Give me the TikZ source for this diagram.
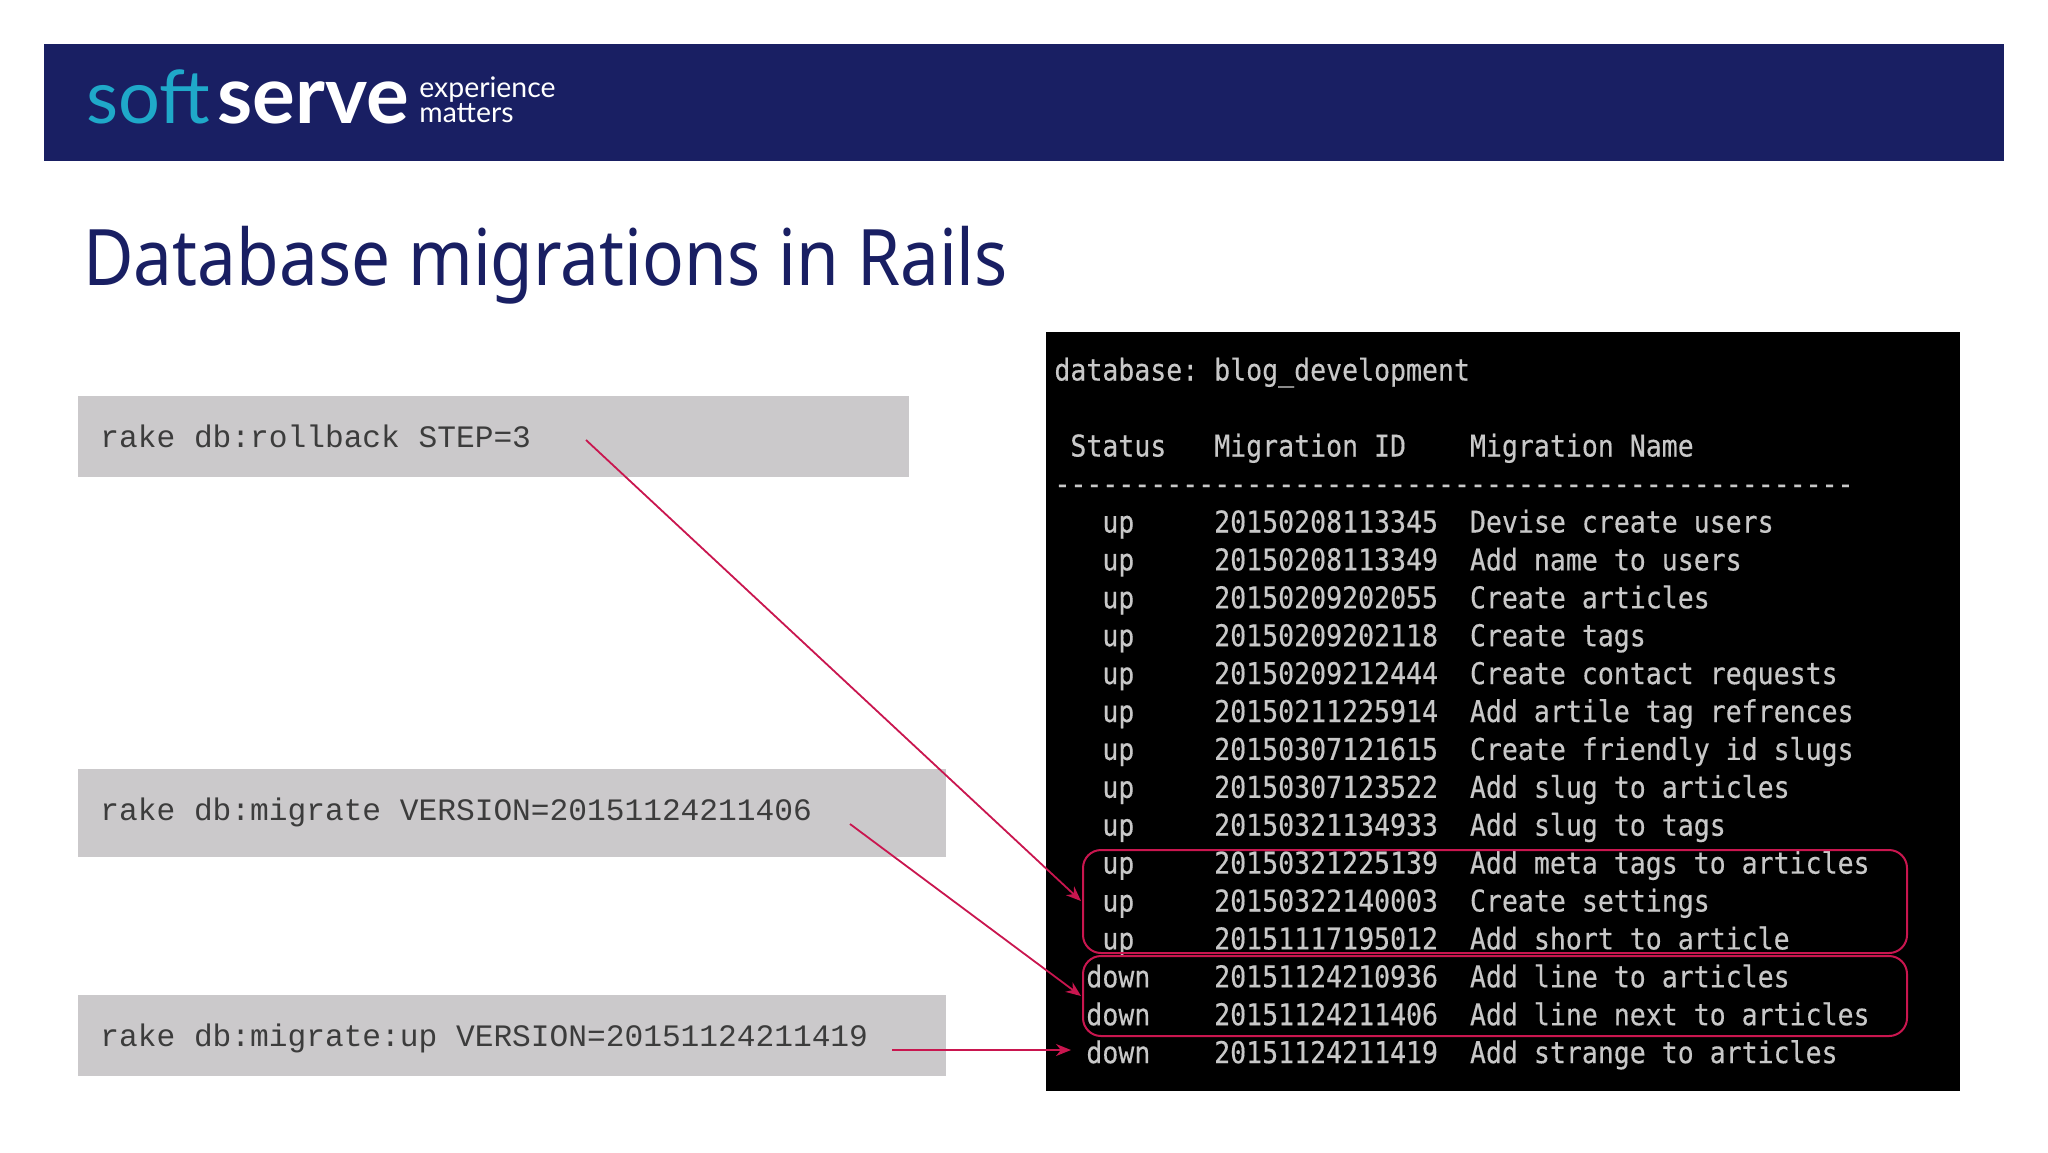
\documentclass[tikz,border=0pt]{standalone}
\usepackage{fontspec}
\usetikzlibrary{arrows.meta}
\setmainfont{Noto Sans}
\newfontfamily\termfont[FakeStretch=0.885,FakeBold=0.35]{DejaVu Sans Mono}
\newfontfamily\cmdfont{Liberation Mono}
\newfontfamily\logofont{Lato}
\newfontfamily\titlefont[FakeStretch=0.888]{Noto Sans}
\definecolor{navy}{HTML}{191F63}
\definecolor{softcyan}{HTML}{1FA9C9}
\definecolor{cmdgrey}{HTML}{CBC9CB}
\definecolor{cmdtext}{HTML}{3C3C3C}
\definecolor{termtext}{HTML}{C8C8C8}
\definecolor{accent}{HTML}{C9164F}
\tikzset{
  x=0.5pt,y=-0.5pt,
  cmdbox/.style={fill=cmdgrey,text=cmdtext,inner xsep=11pt,inner ysep=0pt,align=flush left,
    font=\cmdfont\fontsize{15.6}{18}\selectfont,text height=12pt,text depth=1pt},
  termline/.style={anchor=base west,inner sep=0pt,text=termtext,font=\termfont\fontsize{15}{18}\selectfont},
  redbox/.style={draw=accent,line width=1pt,rounded corners=9pt,inner sep=0pt},
  redarrow/.style={draw=accent,line width=0.9pt,-{Stealth[length=7.5pt,width=6pt]}},
}
\begin{document}
\begin{tikzpicture}
\useasboundingbox[fill=white] (0,0) rectangle (2048,1152);
\node[fill=navy,anchor=north west,minimum width=980pt,minimum height=58.5pt,inner sep=0pt] (header) at (44,44) {};
\node[anchor=base west,inner sep=0pt,text=softcyan,font=\logofont\fontsize{37}{37}\selectfont] (soft) at (86,123) {soft};
\node[anchor=base west,inner sep=0pt,text=white,font=\logofont\bfseries\fontsize{40}{40}\selectfont] (serve) at (217,123) {serve};
\node[anchor=base west,inner sep=0pt,text=white,font=\logofont\fontsize{14.2}{16}\selectfont] (exp) at (419,97) {experience};
\node[anchor=base west,inner sep=0pt,text=white,font=\logofont\fontsize{14.2}{16}\selectfont] (mat) at (419,122) {matters};
\node[anchor=base west,inner sep=0pt,text=navy,font=\titlefont\fontsize{39}{44}\selectfont] (title) at (83,285) {Database migrations in Rails};

\node[cmdbox,anchor=north west,minimum height=40.5pt,text width=393.5pt] (cmdA) at (78,396) {rake db:rollback STEP=3};
\node[cmdbox,anchor=north west,minimum height=44pt,text width=412pt,text height=10pt,text depth=3pt] (cmdB) at (78,769) {rake db:migrate VERSION=20151124211406};
\node[cmdbox,anchor=north west,minimum height=40.5pt,text width=412pt] (cmdC) at (78,995) {rake db:migrate:up VERSION=20151124211419};

\node[fill=black,anchor=north west,minimum width=457pt,minimum height=379.5pt,inner sep=0pt] (term) at (1046,332) {};
\node[termline] (l0) at (1054,380.5) {database:~blog\_development};
\node[termline] (l1) at (1054,456.5) {~Status~~~Migration~ID~~~~Migration~Name};
\node[termline] (l2) at (1054,494.2) {--------------------------------------------------};
\foreach \n/\y/\txt in {
 a/532.5/{~~~up~~~~~20150208113345~~Devise~create~users},
 b/570.4/{~~~up~~~~~20150208113349~~Add~name~to~users},
 c/608.3/{~~~up~~~~~20150209202055~~Create~articles},
 d/646.2/{~~~up~~~~~20150209202118~~Create~tags},
 e/684.1/{~~~up~~~~~20150209212444~~Create~contact~requests},
 f/722/{~~~up~~~~~20150211225914~~Add~artile~tag~refrences},
 g/759.9/{~~~up~~~~~20150307121615~~Create~friendly~id~slugs},
 h/797.8/{~~~up~~~~~20150307123522~~Add~slug~to~articles},
 i/835.7/{~~~up~~~~~20150321134933~~Add~slug~to~tags},
 j/873.6/{~~~up~~~~~20150321225139~~Add~meta~tags~to~articles},
 k/911.5/{~~~up~~~~~20150322140003~~Create~settings},
 m/949.4/{~~~up~~~~~20151117195012~~Add~short~to~article},
 n/987.3/{~~down~~~~20151124210936~~Add~line~to~articles},
 o/1025.2/{~~down~~~~20151124211406~~Add~line~next~to~articles},
 p/1063.1/{~~down~~~~20151124211419~~Add~strange~to~articles}}{
  \node[termline] (row\n) at (1054,\y) {\txt};
}

\node[redbox,minimum width=412pt,minimum height=51.5pt] (groupA) at (1495,901.5) {};
\node[redbox,minimum width=412pt,minimum height=40pt] (groupB) at (1495,996) {};

\coordinate (sA) at (586,440);
\coordinate (eA) at (1081,901);
\coordinate (sB) at (850,824);
\coordinate (eB) at (1081,996);
\coordinate (sC) at (892,1050);
\coordinate (eC) at (1071,1050);
\draw[redarrow] (sA) -- (eA);
\draw[redarrow] (sB) -- (eB);
\draw[redarrow] (sC) -- (eC);
\end{tikzpicture}
\end{document}
